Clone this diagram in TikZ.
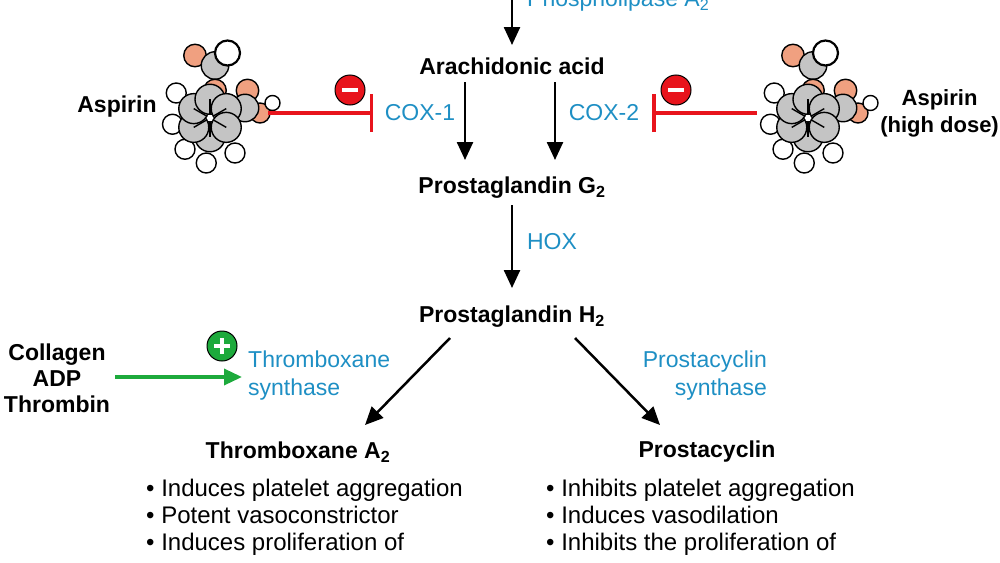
\documentclass[tikz,border=0pt]{standalone}
\usepackage{fontspec}
\setmainfont{Liberation Sans}
\usetikzlibrary{arrows.meta}
\definecolor{lblue}{HTML}{1E8FC4}
\definecolor{ired}{HTML}{E8141C}
\definecolor{agreen}{HTML}{1DAA3C}
\definecolor{ogray}{HTML}{C4C4C4}
\definecolor{opink}{HTML}{F0A080}
\tikzset{
  main/.style={font=\fontsize{23}{28}\selectfont\bfseries, inner sep=0pt},
  enz/.style={font=\fontsize{23}{28}\selectfont, text=lblue, inner sep=0pt},
  txt/.style={font=\fontsize{24}{27}\selectfont, inner sep=0pt, align=left},
  arr/.style={line width=2.5pt, -{Triangle[length=18pt,width=16pt]}},
  inh/.style={line width=3.5pt, ired, -{Bar[width=38pt,line width=3.5pt]}},
  act/.style={line width=3.5pt, agreen, -{Triangle[length=18pt,width=16pt]}},
  sign/.style={circle, draw=black, line width=1pt, minimum size=30pt, inner sep=0pt},
  Cat/.style={ogray, draw=black, line width=1.4pt},
  Hat/.style={white, draw=black, line width=1.4pt},
  Oat/.style={opink, draw=black, line width=1.4pt},
}
\newcommand{\aspmol}{%
  \fill[Hat] (-27,-20) circle (8);
  \fill[Hat] (-30,5) circle (8);
  \fill[Hat] (-20,25) circle (8);
  \fill[Hat] (-3,36) circle (8);
  \fill[Hat] (20,28) circle (8);
  \fill[Oat] (-12,-50) circle (9);
  \fill[Cat] (4,-42) circle (11);
  \fill[Hat,line width=2.2pt] (14,-52) circle (10);
  \fill[Oat] (4,-22) circle (9);
  \fill[Oat] (30,-22) circle (9);
  \fill[Oat] (40,-4) circle (8);
  \fill[Hat] (50,-12) circle (6);
  \fill[Cat] (28,-8) circle (11);
  \foreach \a in {90,150,210,270,330,30} \fill[Cat] (\a:15) circle (12);
  \foreach \a in {90,150,210,270,330,30} \draw[line width=1.4pt] (0,0) -- (\a:15);
  \fill[white] (0,0) circle (2.5);
}
\begin{document}
\begin{tikzpicture}[x=1pt,y=-1pt]
\useasboundingbox (0,0) rectangle (1000,562);
\coordinate (top) at (512,-2);
\node[main] (aa) at (512,66) {Arachidonic acid};
\node[enz,anchor=west] (pla) at (527,1) {Phospholipase A\textsubscript{2}};
\node[main] (pg2) at (512,188) {Prostaglandin G\textsubscript{2}};
\node[main] (ph2) at (512,317) {Prostaglandin H\textsubscript{2}};
\node[main] (txa) at (298,452) {Thromboxane A\textsubscript{2}};
\node[main] (pc) at (707,452) {Prostacyclin};
\node[enz] (cox1) at (420,113) {COX-1};
\node[enz] (cox2) at (604,113) {COX-2};
\node[enz] (hox) at (552,242) {HOX};
\node[enz,align=left,font=\fontsize{23}{28}\selectfont,anchor=west] (txs) at (248,376) {Thromboxane\\synthase};
\node[enz,align=right,font=\fontsize{23}{28}\selectfont,anchor=east] (pcs) at (767,376) {Prostacyclin\\synthase};
\node[main] (asp) at (117,107) {Aspirin};
\node[main,align=center,font=\fontsize{22}{27}\selectfont\bfseries,anchor=east] (asph) at (999,113) {Aspirin\\(high dose)};
\node[main,align=center,font=\fontsize{23}{26}\selectfont\bfseries] (col) at (57,378) {Collagen\\ADP\\Thrombin};
\node[txt,anchor=north west] (tl) at (146,479) {\textbullet\ Induces platelet aggregation\\\textbullet\ Potent vasoconstrictor\\\textbullet\ Induces proliferation of};
\node[txt,anchor=north west] (tr) at (546,479) {\textbullet\ Inhibits platelet aggregation\\\textbullet\ Induces vasodilation\\\textbullet\ Inhibits the proliferation of};
\begin{scope}[shift={(210,118)},scale=1.25]\aspmol\end{scope}
\begin{scope}[shift={(808,118)},scale=1.25]\aspmol\end{scope}
\coordinate (l1) at (268,113); \coordinate (l2) at (373,113);
\coordinate (r1) at (757,113); \coordinate (r2) at (652,113);
\coordinate (g1) at (115,377); \coordinate (g2) at (242,377);
\draw[arr] (top) -- (512,45);
\draw[arr] (465,82) -- (465,160);
\draw[arr] (555,82) -- (555,160);
\draw[arr] (512,205) -- (512,288);
\draw[arr] (450,338) -- (365,425);
\draw[arr] (575,338) -- (660,425);
\draw[inh] (l1) -- (l2);
\draw[inh] (r1) -- (r2);
\draw[act] (g1) -- (g2);
\node[sign,fill=ired] (m1) at (350,90) {}; \draw[white,line width=3.5pt] (m1.center)+(-8,0) -- +(8,0);
\node[sign,fill=ired] (m2) at (676,90) {}; \draw[white,line width=3.5pt] (m2.center)+(-8,0) -- +(8,0);
\node[sign,fill=agreen] (p1) at (222,346) {}; \draw[white,line width=3.5pt] (p1.center)+(-8,0) -- +(8,0) (p1.center)+(0,-8) -- +(0,8);
\end{tikzpicture}
\end{document}
